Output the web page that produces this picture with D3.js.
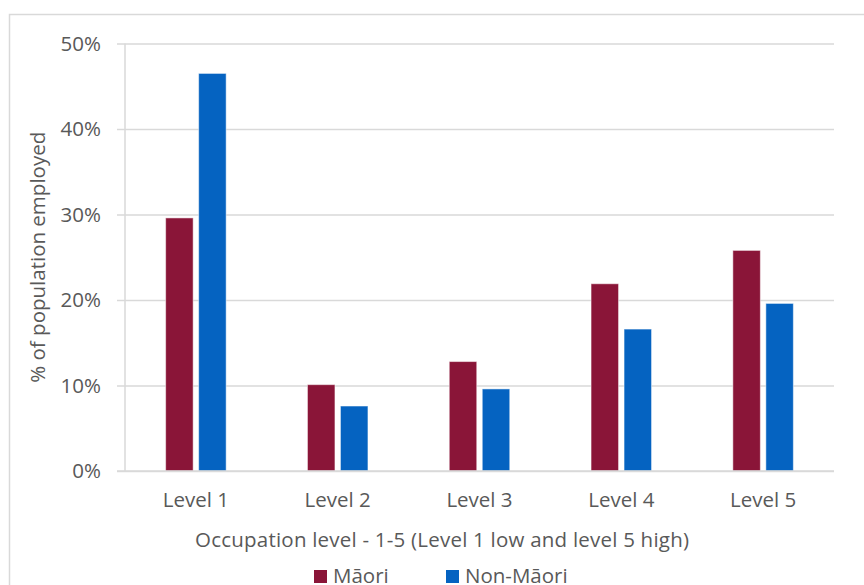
<!DOCTYPE html>
<html>
<head>
<meta charset="utf-8">
<script src="https://cdn.jsdelivr.net/npm/d3@7"></script>
<style>
  html, body { margin: 0; padding: 0; background: #fff; }
  svg { display: block; font-family: "Open Sans", sans-serif; }
</style>
</head>
<body>
<svg id="chart" width="864" height="585"></svg>
<script>
// Share of employed population by occupation level
const categories = ["Level 1", "Level 2", "Level 3", "Level 4", "Level 5"];
const seriesNames = ["Māori", "Non-Māori"];
const maoriValues = [29.6, 10.1, 12.8, 21.9, 25.8];
const nonMaoriValues = [46.5, 7.6, 9.6, 16.6, 19.6];
const yTicks = [0, 10, 20, 30, 40, 50];
const colors = ["#8a1538", "#0563c1"];

const FONT = "'Open Sans', sans-serif";
const TEXT = "#595959";
const FS = 20.5;

const svg = d3.select("#chart");
const x0 = 125, x1 = 834, yTop = 43.5, yBottom = 471;

// Chart frame
svg.append("rect")
  .attr("x", 9.5).attr("y", 14.5)
  .attr("width", 900).attr("height", 600)
  .attr("fill", "#fff").attr("stroke", "#d9d9d9").attr("stroke-width", 1.5);

const x = d3.scaleBand().domain(categories).range([x0, x1]).paddingInner(0).paddingOuter(0);
const y = d3.scaleLinear().domain([0, 50]).range([yBottom, yTop]);

// Gridlines and y axis labels
const yAxis = d3.axisLeft(y).tickValues(yTicks).tickFormat(d => d + "%").tickSize(x1 - 117).tickPadding(16);
const gy = svg.append("g").attr("transform", `translate(${x1},0)`).call(yAxis);
gy.select(".domain").remove();
gy.selectAll(".tick line").attr("stroke", "#d9d9d9").attr("stroke-width", 1.5);
gy.selectAll(".tick text").attr("fill", TEXT).attr("font-size", FS).attr("font-family", FONT);

// Vertical axis line
svg.append("line")
  .attr("x1", x0).attr("x2", x0).attr("y1", yTop).attr("y2", yBottom)
  .attr("stroke", "#d9d9d9").attr("stroke-width", 1.5);

// Bars
const data = categories.map((c, i) => ({ cat: c, vals: [maoriValues[i], nonMaoriValues[i]] }));
const barW = 27.5, gap = 5.5;
const groups = svg.append("g").selectAll("g").data(data).join("g")
  .attr("transform", d => `translate(${x(d.cat) + x.bandwidth() / 2},0)`);
groups.selectAll("rect").data(d => d.vals.map((v, j) => ({ v, j }))).join("rect")
  .attr("x", d => d.j === 0 ? -(barW + gap / 2) : gap / 2)
  .attr("width", barW)
  .attr("y", d => y(d.v))
  .attr("height", d => yBottom - y(d.v))
  .attr("fill", d => colors[d.j])
  .attr("stroke", "#fff").attr("stroke-opacity", 0.5).attr("stroke-width", 1);

// Redraw baseline over the bars
svg.append("line")
  .attr("x1", 117).attr("x2", x1).attr("y1", yBottom).attr("y2", yBottom)
  .attr("stroke", "#d9d9d9").attr("stroke-width", 1.5);

// Category labels
const gx = svg.append("g").attr("transform", `translate(0,${yBottom})`)
  .call(d3.axisBottom(x).tickSize(0).tickPadding(21));
gx.select(".domain").remove();
gx.selectAll(".tick text").attr("fill", TEXT).attr("font-size", FS).attr("font-family", FONT);

// Axis titles
svg.append("text")
  .attr("x", 442).attr("y", 547)
  .attr("text-anchor", "middle").attr("fill", TEXT).attr("font-size", FS).attr("font-family", FONT)
  .attr("textLength", 494).attr("lengthAdjust", "spacing")
  .text("Occupation level - 1-5 (Level 1 low and level 5 high)");

svg.append("text")
  .attr("transform", `translate(45,${(yTop + yBottom) / 2}) rotate(-90)`)
  .attr("text-anchor", "middle").attr("fill", TEXT).attr("font-size", FS).attr("font-family", FONT)
  .text("% of population employed");

// Legend
const legend = svg.append("g");
const legendX = [314, 446];
seriesNames.forEach((name, i) => {
  legend.append("rect")
    .attr("x", legendX[i]).attr("y", 570).attr("width", 13).attr("height", 13)
    .attr("fill", colors[i]);
  legend.append("text")
    .attr("x", legendX[i] + 19).attr("y", 583)
    .attr("fill", TEXT).attr("font-size", FS).attr("font-family", FONT)
    .text(name);
});
</script>
</body>
</html>
